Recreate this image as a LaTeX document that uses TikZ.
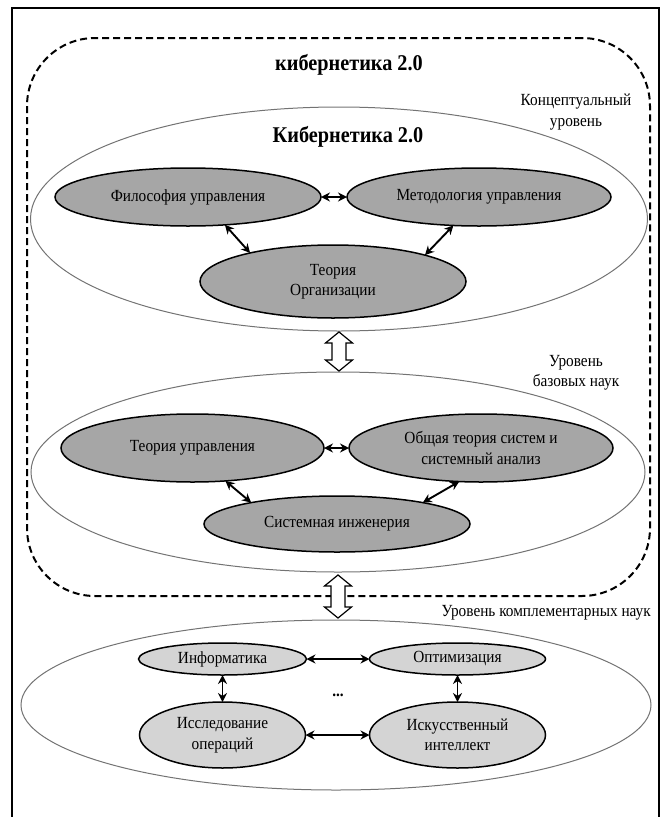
\documentclass[tikz,border=0pt]{standalone}
\usepackage{fontspec}
\setmainfont{Liberation Serif}[FakeStretch=0.9]
\usetikzlibrary{shapes.geometric,arrows.meta,calc}
\definecolor{gA}{gray}{0.65}
\definecolor{gC}{gray}{0.83}
\definecolor{gO}{gray}{0.45}
\tikzset{
  bigell/.style={ellipse,draw=gO,line width=1pt,inner sep=0pt,outer sep=0pt},
  darkell/.style={ellipse,draw=black,line width=1.5pt,fill=gA,inner sep=0pt,outer sep=0pt,align=center,font=\fontsize{17}{20.5}\selectfont},
  lightell/.style={ellipse,draw=black,line width=1.5pt,fill=gC,inner sep=0pt,outer sep=0pt,align=center,font=\fontsize{17}{20.5}\selectfont},
  lbl/.style={inner sep=0pt,align=center,font=\fontsize{17}{20.5}\selectfont},
  ttl/.style={inner sep=0pt,font=\fontsize{22.5}{27}\selectfont\bfseries},
  dbl/.style={{Stealth[length=9pt,width=9pt]}-{Stealth[length=9pt,width=9pt]},line width=1.9pt},
  hollow/.style={draw=black,line width=1.2pt,fill=white,line join=miter},
  dashbox/.style={draw=black,line width=2pt,dash pattern=on 7pt off 4pt,rounded corners=68pt,inner sep=0pt,outer sep=0pt}
}
\begin{document}
\begin{tikzpicture}[x=1pt,y=1pt]
\useasboundingbox (0,0) rectangle (665,-817);
% frame
\draw[line width=2pt] (12,-840) -- (12,-8) -- (659,-8) -- (659,-840);
% dashed container
\node[dashbox,minimum width=623pt,minimum height=558pt] (cyb) at (338.5,-317) {};
% big level ellipses
\node[bigell,minimum width=617pt,minimum height=224pt] (e1) at (339,-219) {};
\node[bigell,minimum width=614pt,minimum height=200pt] (e2) at (338,-472) {};
\node[bigell,minimum width=630pt,minimum height=170pt] (e3) at (336,-705) {};
% titles and labels
\node[ttl] (t1) at (349,-65) {кибернетика 2.0};
\node[ttl] (t2) at (348,-137) {Кибернетика 2.0};
\node[lbl] (l1) at (576,-112) {Концептуальный\\уровень};
\node[lbl] (l2) at (576,-373) {Уровень\\базовых наук};
\node[lbl,anchor=east] (l3) at (651,-613) {Уровень комплементарных наук};
% level 1
\node[darkell,minimum width=266pt,minimum height=58pt] (phil) at (188,-197) {Философия управления};
\node[darkell,minimum width=264pt,minimum height=58pt] (meth) at (479,-197) {Методология управления};
\node[darkell,minimum width=266pt,minimum height=73pt] (org) at (333,-281.5) {Теория\\Организации};
% level 2
\node[darkell,minimum width=263pt,minimum height=68pt] (tu) at (192.5,-448) {Теория управления};
\node[darkell,minimum width=264pt,minimum height=68pt] (ots) at (481,-448) {Общая теория систем и\\системный анализ};
\node[darkell,minimum width=266pt,minimum height=56pt] (si) at (337,-524) {Системная инженерия};
% level 3
\node[lightell,minimum width=168pt,minimum height=32pt] (inf) at (222.5,-659) {Информатика};
\node[lightell,minimum width=176pt,minimum height=32pt] (opt) at (457.5,-659) {Оптимизация};
\node[lightell,minimum width=166pt,minimum height=66pt] (rop) at (222.5,-735) {Исследование\\операций};
\node[lightell,minimum width=176pt,minimum height=66pt] (ai) at (457.5,-735) {Искусственный\\интеллект};
\node[lbl] (dots) at (338,-695) {\textbf{...}};
% connectors level 1
\draw[dbl] (phil.east) -- (meth.west);
\draw[dbl] (phil.-37) -- (org.161);
\draw[dbl] (meth.228) -- (org.16);
% connectors level 2
\draw[dbl] (tu.east) -- (ots.west);
\draw[dbl] (tu.-45) -- (si.166);
\draw[dbl] (ots.237) -- (si.14);
% connectors level 3
\draw[dbl] (inf.east) -- (opt.west);
\draw[dbl] (rop.east) -- (ai.west);
\draw[dbl] (inf.south) -- (rop.north);
\draw[dbl] (opt.south) -- (ai.north);
% hollow double arrows between levels
\draw[hollow] let \p1=(e1.south), \p2=(e2.north) in
  (\x1,\y1-1pt) -- (\x1+13.5pt,\y1-12pt) -- (\x1+7pt,\y1-12pt) -- (\x1+7pt,\y2+12pt)
  -- (\x1+13.5pt,\y2+12pt) -- (\x1,\y2+1pt) -- (\x1-13.5pt,\y2+12pt) -- (\x1-7pt,\y2+12pt)
  -- (\x1-7pt,\y1-12pt) -- (\x1-13.5pt,\y1-12pt) -- cycle;
\draw[hollow] let \p1=(e2.south), \p2=(e3.north) in
  (\x1,\y1-3pt) -- (\x1+13.5pt,\y1-14pt) -- (\x1+7pt,\y1-14pt) -- (\x1+7pt,\y2+13pt)
  -- (\x1+13.5pt,\y2+13pt) -- (\x1,\y2+2pt) -- (\x1-13.5pt,\y2+13pt) -- (\x1-7pt,\y2+13pt)
  -- (\x1-7pt,\y1-14pt) -- (\x1-13.5pt,\y1-14pt) -- cycle;
\end{tikzpicture}
\end{document}
